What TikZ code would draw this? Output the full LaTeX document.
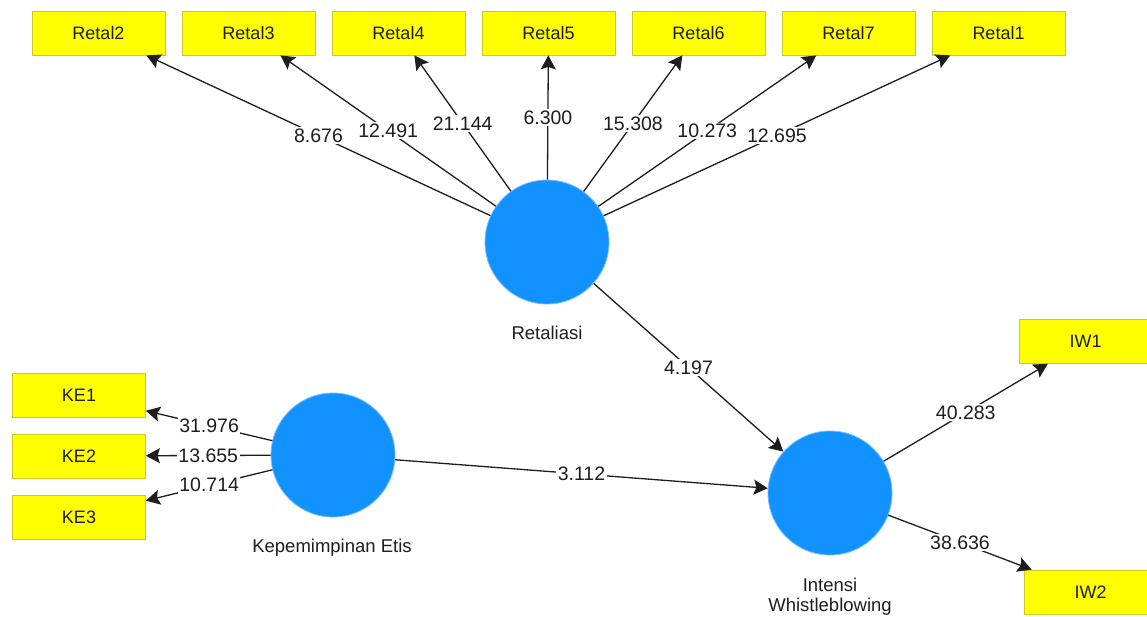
\documentclass[tikz,border=0pt]{standalone}
\usepackage{fontspec}
\setmainfont{Liberation Sans}
\usetikzlibrary{arrows.meta}
\definecolor{boxfill}{RGB}{255,255,0}
\definecolor{boxline}{RGB}{200,200,40}
\definecolor{lvfill}{RGB}{18,146,255}
\definecolor{lvline}{RGB}{120,190,255}
\definecolor{edgecol}{RGB}{30,30,30}
\definecolor{txtcol}{RGB}{30,30,30}
\begin{document}
\begin{tikzpicture}[x=1pt,y=-1pt,
  indbox/.style={draw=boxline, line width=0.8pt, fill=boxfill, minimum width=133pt, minimum height=44pt, inner sep=0pt, text=txtcol, font=\fontsize{18}{20}\selectfont},
  latent/.style={circle, draw=lvline, line width=0.8pt, fill=lvfill, minimum size=124pt, inner sep=0pt},
  lvlabel/.style={text=txtcol, font=\fontsize{18.5}{22}\selectfont, align=center},
  conn/.style={draw=edgecol, line width=1.3pt, -{Stealth[length=14pt, width=15pt, inset=2.5pt]}},
  val/.style={midway, fill=white, inner sep=1.5pt, text=txtcol, font=\fontsize{19.5}{22}\selectfont}
]
\clip (0,0) rectangle (1147,617);
\fill[white] (0,0) rectangle (1147,617);

% indicator boxes
\node[indbox] (r2) at (98.5,33) {Retal2};
\node[indbox] (r3) at (248.5,33) {Retal3};
\node[indbox] (r4) at (398.5,33) {Retal4};
\node[indbox] (r5) at (548.5,33) {Retal5};
\node[indbox] (r6) at (698.5,33) {Retal6};
\node[indbox] (r7) at (848.5,33) {Retal7};
\node[indbox] (r1) at (998.5,33) {Retal1};

\node[indbox] (ke1) at (79,395) {KE1};
\node[indbox] (ke2) at (79,456) {KE2};
\node[indbox] (ke3) at (79,517) {KE3};

\node[indbox] (iw1) at (1085.5,341.5) {IW1};
\node[indbox] (iw2) at (1090.5,592) {IW2};

% latent variables
\node[latent] (ret) at (547,242) {};
\node[latent] (kep) at (333,455) {};
\node[latent] (int) at (830,493) {};

\node[lvlabel] (retl) at (547,333) {Retaliasi};
\node[lvlabel] (kepl) at (332,548) {Kepemimpinan Etis};
\node[lvlabel] (intl1) at (830,585) {Intensi};
\node[lvlabel] (intl2) at (830,607) {Whistleblowing};

% outer loadings
\draw[conn] (ret) -- node[val] {8.676} (r2);
\draw[conn] (ret) -- node[val] {12.491} (r3);
\draw[conn] (ret) -- node[val] {21.144} (r4);
\draw[conn] (ret) -- node[val] {6.300} (r5);
\draw[conn] (ret) -- node[val] {15.308} (r6);
\draw[conn] (ret) -- node[val] {10.273} (r7);
\draw[conn] (ret) -- node[val] {12.695} (r1);

\draw[conn] (kep) -- node[val] {31.976} (ke1);
\draw[conn] (kep) -- node[val] {13.655} (ke2);
\draw[conn] (kep) -- node[val] {10.714} (ke3);

\draw[conn] (int) -- node[val] {40.283} (iw1);
\draw[conn] (int) -- node[val] {38.636} (iw2);

% structural paths
\draw[conn] (ret) -- node[val] {4.197} (int);
\draw[conn] (kep) -- node[val] {3.112} (int);
\end{tikzpicture}
\end{document}
